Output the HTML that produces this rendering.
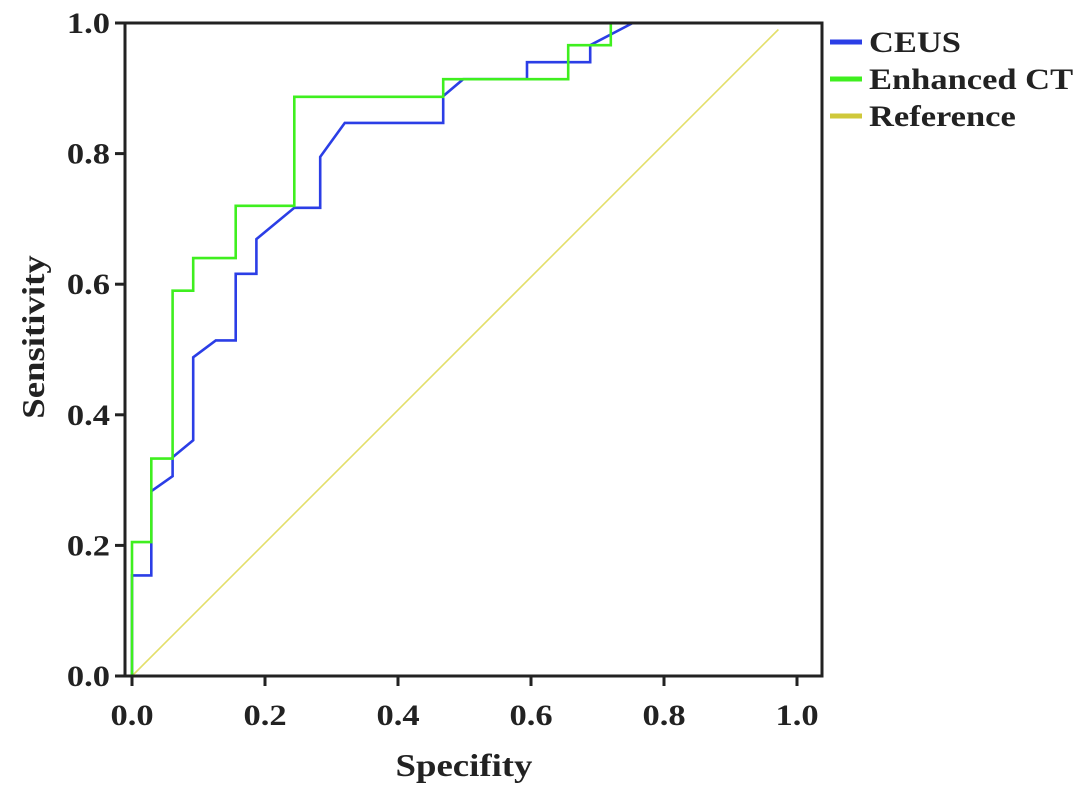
<!DOCTYPE html>
<html><head><meta charset="utf-8">
<style>
html,body{margin:0;padding:0;background:#fff;}
svg{display:block;font-family:"Liberation Serif",serif;font-weight:bold;}
</style></head>
<body>
<svg id="chart" width="1087" height="794" viewBox="0 0 1087 794">
<g id="plot"></g>
<g id="axes"></g>
<g id="legend"></g>
</svg>
<script>
const xTicks = [0, 0.2, 0.4, 0.6, 0.8, 1.0];
const yTicks = [0, 0.2, 0.4, 0.6, 0.8, 1.0];
const tickLabels = ["0.0","0.2","0.4","0.6","0.8","1.0"];
const ceusX = [0,0,0.029,0.029,0.061,0.061,0.092,0.092,0.126,0.156,0.156,0.187,0.187,0.244,0.283,0.283,0.32,0.468,0.468,0.498,0.594,0.594,0.689,0.689,0.753,1];
const ceusY = [0,0.154,0.154,0.283,0.306,0.335,0.361,0.488,0.514,0.514,0.616,0.616,0.669,0.717,0.717,0.795,0.847,0.847,0.888,0.914,0.914,0.94,0.94,0.966,1,1];
const ctX = [0,0,0.029,0.029,0.061,0.061,0.092,0.092,0.156,0.156,0.244,0.244,0.468,0.468,0.656,0.656,0.72,0.72,1];
const ctY = [0,0.205,0.205,0.333,0.333,0.59,0.59,0.64,0.64,0.72,0.72,0.887,0.887,0.914,0.914,0.966,0.966,1,1];
const refX = [0,0.972];
const refY = [0,0.99];
const seriesNames = ["CEUS","Enhanced CT","Reference"];
const seriesColors = ["#2b3ee6","#3fef1f","#cfc83a"];

const NS="http://www.w3.org/2000/svg";
const X0=132,X1=797,Y0=676,Y1=23;
function sx(v){return X0+v*(X1-X0);}
function sy(v){return Y0-v*(Y0-Y1);}
function mk(tag,attrs,parent){const e=document.createElementNS(NS,tag);for(const k in attrs)e.setAttribute(k,attrs[k]);parent.appendChild(e);return e;}
function txt(x,y,s,size,anchor,parent,extra){
  const t=mk('text',{x:0,y:0,'text-anchor':anchor,'font-size':size,fill:'#222',transform:'translate('+x+','+y+')'+(extra||'')+' scale(1.15,1)'},parent);
  t.textContent=s;return t;
}
const plot=document.getElementById('plot'),axes=document.getElementById('axes'),legend=document.getElementById('legend');

const fr=mk('rect',{x:125,y:23,width:697,height:653,fill:'none',stroke:'#222','stroke-width':3},axes);



function line(xs,ys,color,w,name){
  const pts=xs.map((x,i)=>sx(x).toFixed(1)+','+sy(ys[i]).toFixed(1)).join(' ');
  const p=mk('polyline',{points:pts,fill:'none',stroke:color,'stroke-width':w,'stroke-linejoin':'miter'},plot);
  
  
}
line(refX,refY,"#e3df6a",1.6,'reference-line');
line(ceusX,ceusY,seriesColors[0],2.6,'ceus-curve');
line(ctX,ctY,seriesColors[1],2.6,'enhanced-ct-curve');

xTicks.forEach((t,i)=>{
  const l=mk('line',{x1:sx(t),x2:sx(t),y1:676,y2:686,stroke:'#222','stroke-width':3},axes);
  
  
  const tx=txt(sx(t),725,tickLabels[i],30,'middle',axes);
  
  
});
yTicks.forEach((t,i)=>{
  const l=mk('line',{x1:115,x2:125,y1:sy(t),y2:sy(t),stroke:'#222','stroke-width':3},axes);
  
  
  const tx=txt(110,sy(t)+10,tickLabels[i],30,'end',axes);
  
  
});
const xt=txt(464,776,'Specifity',32,'middle',axes);


const yt=txt(44,337,'Sensitivity',32,'middle',axes,' rotate(-90)');



seriesNames.forEach((n,i)=>{
  const y=42+i*37;
  const l=mk('line',{x1:830,x2:862,y1:y,y2:y,stroke:seriesColors[i],'stroke-width':5},legend);
  
  
  const tx=txt(869,y+10,n,30,'start',legend);
  
  
});
</script>
</body></html>
